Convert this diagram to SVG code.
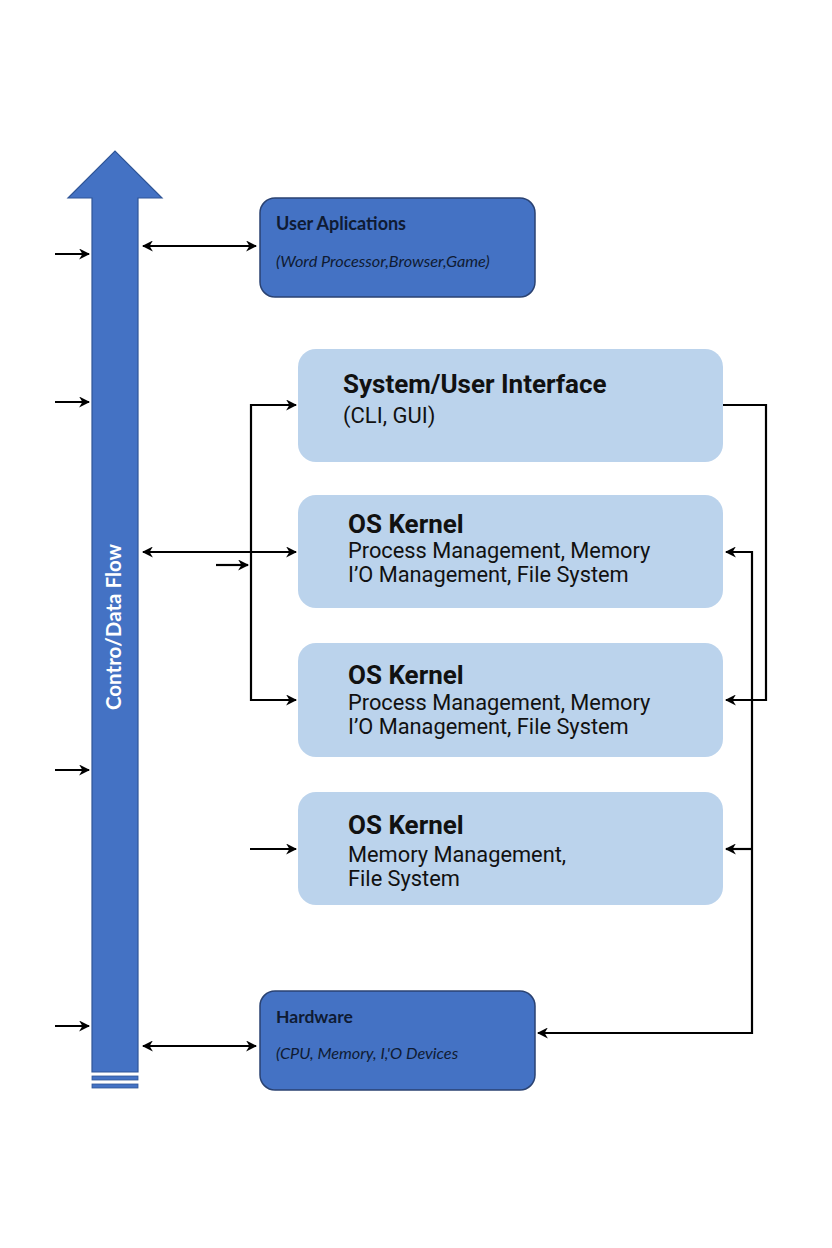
<svg xmlns="http://www.w3.org/2000/svg" width="832" height="1248" viewBox="0 0 832 1248">
<defs>
<marker id="ah" viewBox="0 0 10 10" refX="9" refY="5" markerWidth="11" markerHeight="11" markerUnits="userSpaceOnUse" orient="auto-start-reverse">
<path d="M0,0 L10,5 L0,10 L3,5 Z" fill="#000"/>
</marker>
<style>
.dark{fill:#4472C4;stroke:#2A4272;stroke-width:1.5}
.light{fill:#BBD3EC}
.dt{font-family:Lato,"Liberation Sans",sans-serif;fill:#0F1B33}
.lt{font-family:Roboto,"Liberation Sans",sans-serif;fill:#111}
.ln{fill:none;stroke:#000;stroke-width:2.2}
</style>
</defs>
<rect width="832" height="1248" fill="#FFFFFF"/>
<g id="flow-arrow">
<path d="M92,1072 L92,198 L68,198 L115,151 L162,198 L138,198 L138,1072 Z" fill="#4472C4" stroke="#2F5597" stroke-width="1.2"/>
<rect x="92" y="1076" width="46" height="4" fill="#4472C4" stroke="#2F5597" stroke-width="0.8"/>
<rect x="92" y="1084" width="46" height="4" fill="#4472C4" stroke="#2F5597" stroke-width="0.8"/>
<text transform="translate(121,627) rotate(-90)" text-anchor="middle" font-family="Lato,'Liberation Sans',sans-serif" font-weight="bold" font-size="20.5" fill="#fff">Contro/Data Flow</text>
</g>
<g id="user-apps">
<rect class="dark" x="260" y="198" width="275" height="99" rx="15"/>
<text class="dt" x="276" y="230" font-size="18" font-weight="bold">User Aplications</text>
<text class="dt" x="276" y="267" font-size="16.3" font-style="italic">(Word Processor,Browser,Game)</text>
</g>
<g id="sys-ui">
<rect class="light" x="298" y="349" width="425" height="113" rx="18"/>
<text class="lt" x="343" y="393" font-size="26" font-weight="bold">System/User Interface</text>
<text class="lt" x="343" y="423" font-size="22">(CLI, GUI)</text>
</g>
<g id="kernel1">
<rect class="light" x="298" y="495" width="425" height="113" rx="18"/>
<text class="lt" x="348" y="533" font-size="26" font-weight="bold">OS Kernel</text>
<text class="lt" x="348" y="558" font-size="21.8">Process Management, Memory</text>
<text class="lt" x="348" y="582" font-size="21.8">I’O Management, File System</text>
</g>
<g id="kernel2">
<rect class="light" x="298" y="643" width="425" height="114" rx="18"/>
<text class="lt" x="348" y="684" font-size="26" font-weight="bold">OS Kernel</text>
<text class="lt" x="348" y="710" font-size="21.8">Process Management, Memory</text>
<text class="lt" x="348" y="734" font-size="21.8">I’O Management, File System</text>
</g>
<g id="kernel3">
<rect class="light" x="298" y="792" width="425" height="113" rx="18"/>
<text class="lt" x="348" y="834" font-size="26" font-weight="bold">OS Kernel</text>
<text class="lt" x="348" y="862" font-size="21.8">Memory Management,</text>
<text class="lt" x="348" y="886" font-size="21.8">File System</text>
</g>
<g id="hardware">
<rect class="dark" x="260" y="991" width="275" height="99" rx="15"/>
<text class="dt" x="276" y="1023" font-size="17.5" font-weight="bold">Hardware</text>
<text class="dt" x="276" y="1059" font-size="16.3" font-style="italic">(CPU, Memory, I,'O Devices</text>
</g>
<g id="connectors">
<line class="ln" x1="55" y1="254" x2="89" y2="254" marker-end="url(#ah)"/>
<line class="ln" x1="55" y1="402" x2="89" y2="402" marker-end="url(#ah)"/>
<line class="ln" x1="55" y1="770" x2="89" y2="770" marker-end="url(#ah)"/>
<line class="ln" x1="55" y1="1026" x2="89" y2="1026" marker-end="url(#ah)"/>
<line class="ln" x1="143" y1="246" x2="256" y2="246" marker-start="url(#ah)" marker-end="url(#ah)"/>
<line class="ln" x1="143" y1="1046" x2="256" y2="1046" marker-start="url(#ah)" marker-end="url(#ah)"/>
<line class="ln" x1="143" y1="552" x2="296" y2="552" marker-start="url(#ah)" marker-end="url(#ah)"/>
<line class="ln" x1="216" y1="565" x2="248" y2="565" marker-end="url(#ah)"/>
<path class="ln" d="M296,405 L251,405 L251,700 L296,700" marker-start="url(#ah)" marker-end="url(#ah)"/>
<line class="ln" x1="250" y1="849" x2="296" y2="849" marker-end="url(#ah)"/>
<path class="ln" d="M723,405 L766,405 L766,700 L726,700" marker-end="url(#ah)"/>
<path class="ln" d="M726,552 L752,552 L752,1033 L538,1033" marker-start="url(#ah)" marker-end="url(#ah)"/>
<line class="ln" x1="752" y1="849" x2="726" y2="849" marker-end="url(#ah)"/>
</g>
</svg>
